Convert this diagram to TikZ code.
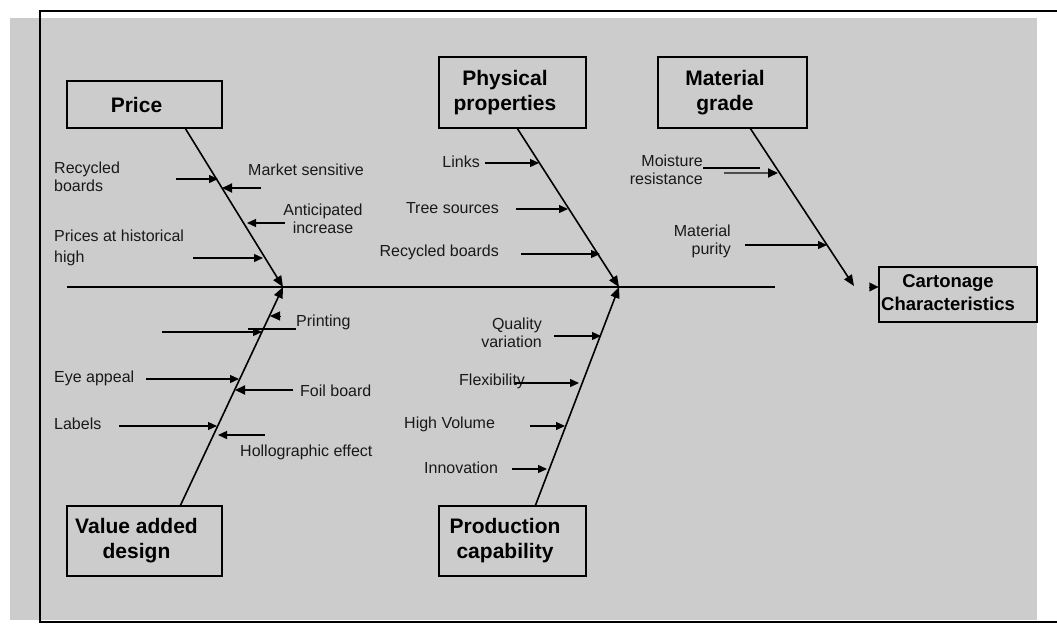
\documentclass[tikz,border=0pt]{standalone}
\usepackage{fontspec}
\setmainfont{Liberation Sans}
\usetikzlibrary{arrows.meta,calc}
\definecolor{bggray}{HTML}{CCCCCC}
\begin{document}
\begin{tikzpicture}[x=1pt,y=-1pt,
  lbl/.style={font=\fontsize{16}{18}\selectfont, inner sep=0pt, text=black!90},
  head/.style={draw, line width=1.2pt, font=\fontsize{21}{25}\selectfont\bfseries, inner sep=0pt},
  carthead/.style={head, font=\fontsize{18.5}{23}\selectfont\bfseries},
  spine/.style={line width=1.5pt},
  bone/.style={line width=1.6pt, -{Triangle[length=11pt,width=9pt]}},
  sub/.style={line width=1.3pt, -{Triangle[length=9pt,width=8pt]}},
  subthick/.style={line width=2pt, -{Triangle[length=10pt,width=9pt]}},
  plain/.style={line width=1.3pt}]
\useasboundingbox (0,0) rectangle (1057,624);
% background and frame
\fill[bggray] (10,18) rectangle (1037,620);
\draw[line width=1.8pt] (1057,11) -- (40,11) -- (40,622) -- (1057,622);

% category boxes
\node[head, minimum width=155pt, minimum height=47pt] (price) at (144.5,104.5) {Price\hspace*{16pt}};
\node[head, minimum width=147pt, minimum height=71pt] (phys) at (512.5,92.5) {\begin{tabular}{@{}c@{}}Physical\\properties\end{tabular}\hspace*{15pt}};
\node[head, minimum width=149pt, minimum height=71pt] (mat) at (732.5,92.5) {\begin{tabular}{@{}c@{}}Material\\grade\end{tabular}\hspace*{15pt}};
\node[head, minimum width=155pt, minimum height=70pt] (val) at (144.5,541) {\begin{tabular}{@{}c@{}}Value added\\design\end{tabular}\hspace*{16pt}};
\node[head, minimum width=147pt, minimum height=70pt] (prod) at (512.5,541) {\begin{tabular}{@{}c@{}}Production\\capability\end{tabular}\hspace*{15pt}};
\node[carthead, minimum width=158pt, minimum height=55pt] (cart) at (958,294.5) {\begin{tabular}{@{}c@{}}Cartonage\\Characteristics\end{tabular}\hspace*{20pt}};

% spine and junctions
\coordinate (sL) at (67,287);
\coordinate (sR) at (775,287);
\coordinate (jP) at (283,287);
\coordinate (jQ) at (619,287);
\coordinate (jM) at (854,286);
\draw[spine] (sL) -- (sR);

% bones
\draw[bone] ($(price.south west)+(119,0)$) -- (jP);
\draw[bone] ($(phys.south west)+(79,0)$) -- (jQ);
\draw[bone] ($(mat.south west)+(93,0)$) -- (jM);
\draw[bone] ($(val.north west)+(114,0)$) -- (jP);
\draw[bone] ($(prod.north west)+(97,0)$) -- (jQ);
\draw[line width=0.3pt, -{Triangle[length=9pt,width=9pt]}] ($(cart.west)+(-9,-7.5)$) -- ($(cart.west)+(0,-7.5)$);

% labels - Price
\node[lbl, anchor=west, align=left] (l1) at (54,176.5) {Recycled\\boards};
\node[lbl, anchor=west] (l2) at (248,170) {Market sensitive};
\node[lbl, align=center] (l3) at (323,219) {Anticipated\\increase};
\node[lbl, anchor=west, align=left, font=\fontsize{16}{21}\selectfont] (l4) at (54,247.5) {Prices at historical\\high};
% labels - Value added design
\node[lbl, anchor=west] (l5) at (296,322) {Printing};
\node[lbl, anchor=west] (l6) at (54,378) {Eye appeal};
\node[lbl, anchor=west] (l7) at (300,391) {Foil board};
\node[lbl, anchor=west] (l8) at (54,424) {Labels};
\node[lbl, anchor=west] (l9) at (240,452) {Hollographic effect};
% labels - Physical properties
\node[lbl, anchor=east] (l10) at (480,162) {Links};
\node[lbl, anchor=east] (l11) at (499,208) {Tree sources};
\node[lbl, anchor=east] (l12) at (499,252) {Recycled boards};
% labels - Material grade
\node[lbl, anchor=east, align=right] (l13) at (703,170) {Moisture\\resistance};
\node[lbl, anchor=east, align=right] (l14) at (731,241.5) {Material\\purity};
% labels - Production capability
\node[lbl, anchor=east, align=right] (l15) at (542,332.5) {Quality\\variation};
\node[lbl, anchor=west] (l16) at (459,381) {Flexibility};
\node[lbl, anchor=west] (l17) at (404,424) {High Volume};
\node[lbl, anchor=west] (l18) at (424,468) {Innovation};

% sub arrows - Price
\draw[sub] (176,179) -- (218,179);
\draw[subthick] (261,188) -- (222,188);
\draw[sub] (285,223) -- (247,223);
\draw[sub] (193,258) -- (263,258);
% sub arrows - Value added design
\draw[sub] (162,332) -- (262,332);
\draw[plain] (248,329) -- (296,329);
\draw[line width=0.3pt, -{Triangle[length=10pt,width=9pt]}] (280,316) -- (270,316);
\draw[sub] (146,379) -- (239,379);
\draw[subthick] (293,390) -- (235,390);
\draw[sub] (119,426) -- (217,426);
\draw[sub] (265,435) -- (218,435);
% sub arrows - Physical properties
\draw[sub] (485,163) -- (539,163);
\draw[sub] (516,209) -- (568,209);
\draw[sub] (521,254) -- (600,254);
% sub arrows - Material grade
\draw[plain] (703,168) -- (760,168);
\draw[line width=2pt, draw=black!70, -{Triangle[length=10pt,width=9pt,color=black,fill=black]}] (724,173) -- (778,173);
\draw[sub] (745,245) -- (827,245);
% sub arrows - Production capability
\draw[sub] (554,336) -- (601,336);
\draw[sub] (515,383) -- (579,383);
\draw[sub] (530,426) -- (565,426);
\draw[sub] (512,469) -- (547,469);
\end{tikzpicture}
\end{document}
